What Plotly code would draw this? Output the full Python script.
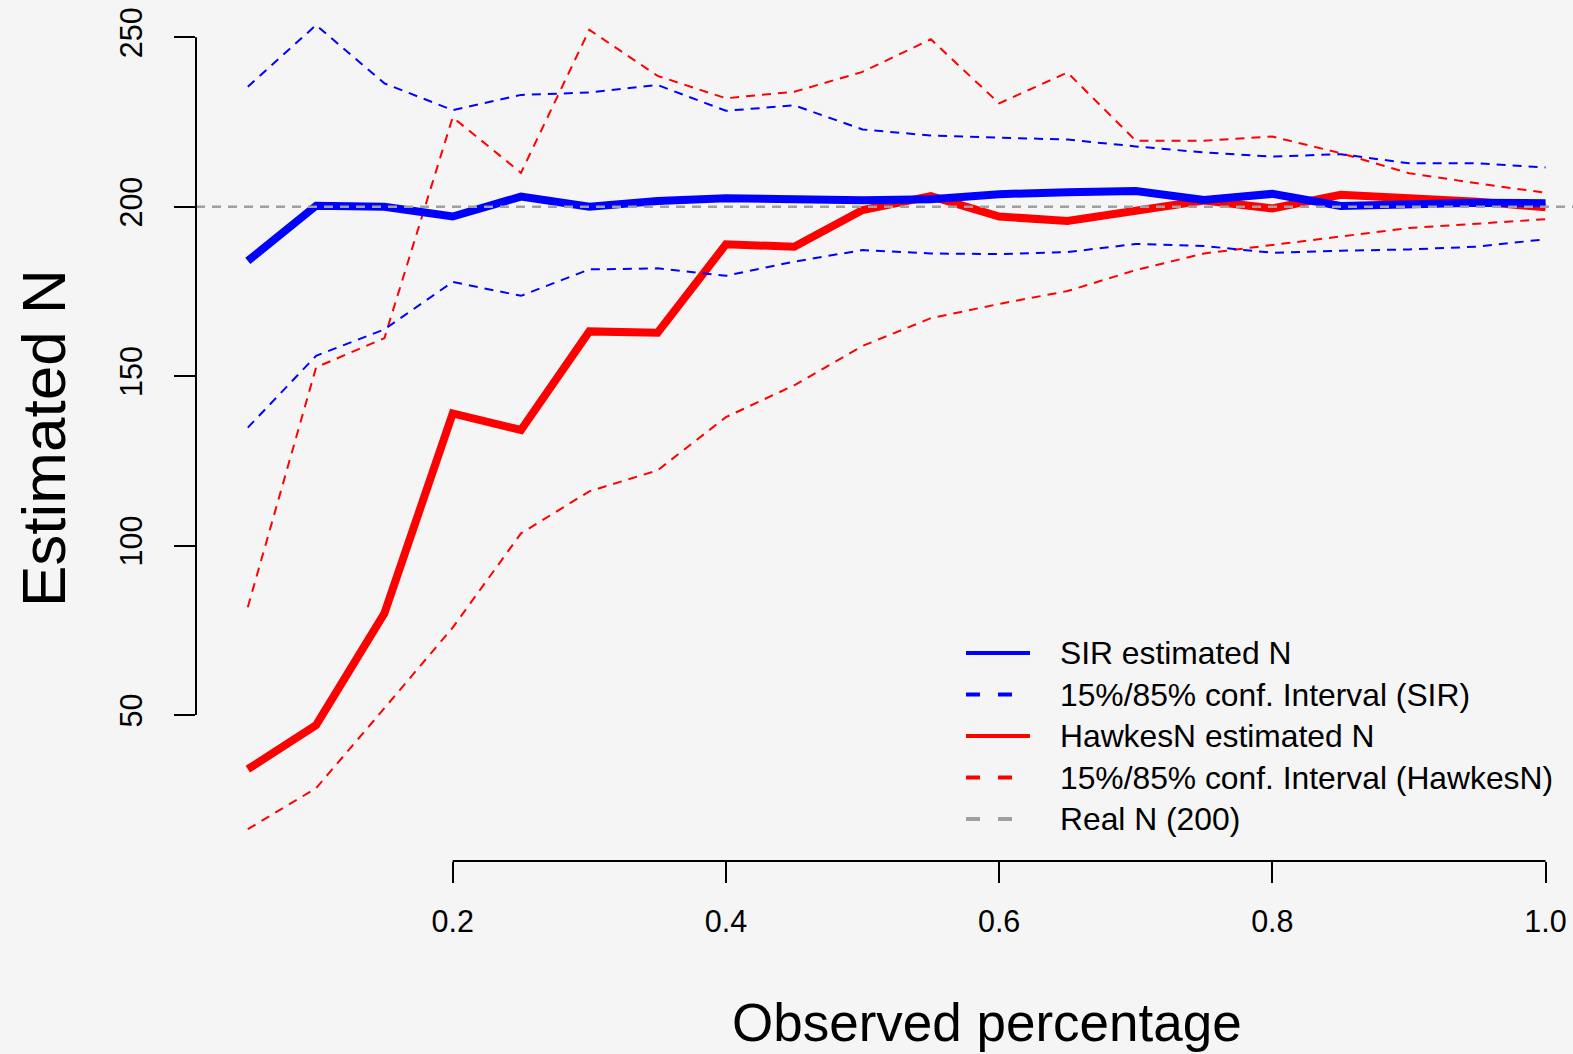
import plotly.graph_objects as go

# Observed fraction of the cascade
observed = [0.05, 0.10, 0.15, 0.20, 0.25, 0.30, 0.35, 0.40, 0.45, 0.50,
            0.55, 0.60, 0.65, 0.70, 0.75, 0.80, 0.85, 0.90, 0.95, 1.00]

# SIR estimates of N with 15%/85% quantiles
sir_est = [184.0, 200.3, 200.0, 197.1, 203.0, 200.0, 201.7, 202.5, 202.2, 201.9,
           202.2, 203.7, 204.3, 204.6, 202.0, 203.8, 200.2, 200.8, 201.2, 201.0]
sir_hi = [235.4, 253.6, 236.4, 228.5, 233.0, 233.7, 235.9, 228.3, 229.9, 222.8,
          221.0, 220.4, 219.8, 217.8, 216.0, 214.8, 215.5, 212.8, 212.8, 211.6]
sir_lo = [134.8, 156.0, 163.8, 177.8, 173.7, 181.5, 181.8, 179.6, 183.8, 187.2,
          186.2, 186.0, 186.6, 189.0, 188.4, 186.4, 187.0, 187.4, 188.2, 190.4]

# HawkesN estimates of N with 15%/85% quantiles
hk_est = [34.0, 47.0, 80.0, 139.0, 134.1, 163.2, 162.8, 188.9, 188.2, 199.0,
          203.1, 197.1, 195.8, 199.0, 201.8, 199.5, 203.5, 202.5, 201.5, 199.8]
hk_hi = [81.8, 152.6, 161.2, 226.4, 210.0, 252.2, 238.6, 232.0, 233.9, 239.8,
         249.4, 230.5, 239.6, 219.5, 219.5, 220.7, 215.8, 209.9, 206.9, 204.1]
hk_lo = [16.3, 28.4, 52.0, 75.8, 103.6, 116.0, 122.2, 137.9, 147.3, 158.9,
         167.1, 171.3, 175.1, 181.3, 186.2, 188.7, 191.2, 193.7, 195.0, 196.3]

REAL_N = 200

x_ticks = [0.2, 0.4, 0.6, 0.8, 1.0]
x_tick_text = ["0.2", "0.4", "0.6", "0.8", "1.0"]
y_ticks = [50, 100, 150, 200, 250]
y_tick_text = ["50", "100", "150", "200", "250"]

legend_labels = ["SIR estimated N", "15%/85% conf. Interval (SIR)",
                 "HawkesN estimated N", "15%/85% conf. Interval (HawkesN)",
                 "Real N (200)"]

BLUE = "#0000ff"
RED = "#ff0000"
GREY = "#a0a0a0"
FONT = "Liberation Sans, Arial, Helvetica, sans-serif"

W, H = 1573, 1054
ML, MR, MT, MB = 196, 0, 0, 193
PW, PH = W - ML - MR, H - MT - MB


def px_x(px):
    return (px - ML) / PW


def px_y(py):
    return (H - MB - py) / PH


fig = go.Figure()

dash_thin = "9px,7px"
series = [
    (hk_lo, RED, 2, dash_thin),
    (hk_hi, RED, 2, dash_thin),
    (hk_est, RED, 8, "solid"),
    (sir_lo, BLUE, 2, dash_thin),
    (sir_hi, BLUE, 2, dash_thin),
    (sir_est, BLUE, 8, "solid"),
]
for ys, col, w, dash in series:
    fig.add_trace(go.Scatter(x=observed, y=ys, mode="lines",
                             line=dict(color=col, width=w, dash=dash),
                             hoverinfo="skip", showlegend=False))

shapes = [
    # horizontal reference line at the true N
    dict(type="line", xref="paper", x0=0, x1=1, yref="y", y0=REAL_N, y1=REAL_N,
         line=dict(color=GREY, width=2.5, dash=dash_thin), layer="above"),
    # R-style detached axis lines, spanning first to last tick
    dict(type="line", xref="x", x0=x_ticks[0], x1=x_ticks[-1], yref="paper", y0=0, y1=0,
         line=dict(color="black", width=2)),
    dict(type="line", xref="paper", x0=0, x1=0, yref="y", y0=y_ticks[0], y1=y_ticks[-1],
         line=dict(color="black", width=2)),
]

annotations = [
    dict(text="Observed percentage", xref="paper", yref="paper",
         x=px_x(987), y=px_y(1022), xanchor="center", yanchor="middle",
         showarrow=False, font=dict(family=FONT, size=53, color="black")),
    dict(text="Estimated N", xref="paper", yref="paper",
         x=px_x(43), y=px_y(438), xanchor="center", yanchor="middle", textangle=-90,
         showarrow=False, font=dict(family=FONT, size=62, color="black")),
]

# Legend drawn in the lower right, R-style without a box
legend_styles = [(BLUE, "solid"), (BLUE, "14px,18px"), (RED, "solid"),
                 (RED, "14px,18px"), (GREY, "14px,18px")]
row0, row_step = 653, 41.5
for i, (label, (col, dash)) in enumerate(zip(legend_labels, legend_styles)):
    ry = px_y(row0 + i * row_step)
    shapes.append(dict(type="line", xref="paper", yref="paper",
                       x0=px_x(966), x1=px_x(1030), y0=ry, y1=ry,
                       line=dict(color=col, width=4, dash=dash)))
    annotations.append(dict(text=label, xref="paper", yref="paper",
                            x=px_x(1058), y=ry, xanchor="left", yanchor="middle",
                            showarrow=False,
                            font=dict(family=FONT, size=31.8, color="black")))

fig.update_layout(
    width=W, height=H,
    margin=dict(l=ML, r=MR, t=MT, b=MB, pad=0),
    paper_bgcolor="#f5f5f5", plot_bgcolor="rgba(0,0,0,0)",
    showlegend=False,
    shapes=shapes, annotations=annotations,
    xaxis=dict(range=[0.01208, 1.0201], tickvals=x_ticks, ticktext=x_tick_text,
               ticks="outside", ticklen=21, tickwidth=2, tickcolor="black",
               showgrid=False, zeroline=False, showline=False,
               ticklabelstandoff=12,
               tickfont=dict(family=FONT, size=30.5, color="black")),
    yaxis=dict(range=[6.91, 261.0], tickvals=y_ticks, ticktext=y_tick_text,
               ticks="outside", ticklen=21, tickwidth=2, tickcolor="black",
               showgrid=False, zeroline=False, showline=False, tickangle=-90,
               ticklabelstandoff=20,
               tickfont=dict(family=FONT, size=30.5, color="black")),
)

fig.write_html("out.html")
